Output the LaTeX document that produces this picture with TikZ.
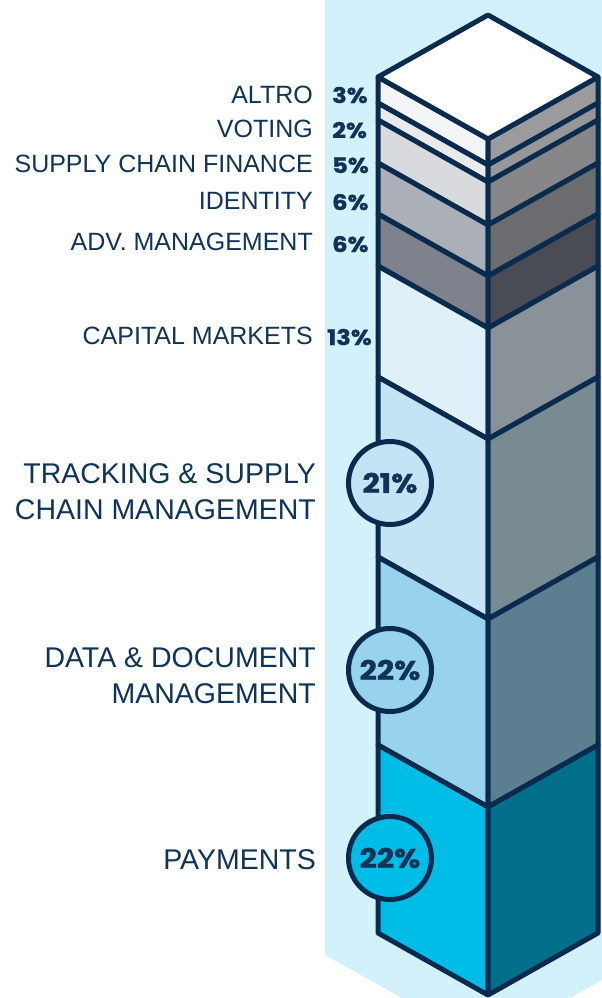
\documentclass[tikz,border=0pt]{standalone}
\usepackage{fontspec}
\setmainfont{Liberation Sans}
\newfontfamily\pctfont{Poppins}[BoldFeatures={FakeStretch=1.12,FakeBold=1.2}]
\definecolor{bgband}{HTML}{D3F1FC}
\definecolor{navy}{HTML}{0A2B4E}
\definecolor{txt}{HTML}{0F3359}
\definecolor{lA}{HTML}{F3F4F6}\definecolor{rA}{HTML}{9B9B9D}
\definecolor{lB}{HTML}{E9EAED}\definecolor{rB}{HTML}{979799}
\definecolor{lC}{HTML}{D9DADE}\definecolor{rC}{HTML}{878789}
\definecolor{lD}{HTML}{ABAFB8}\definecolor{rD}{HTML}{6B6C70}
\definecolor{lE}{HTML}{7D828D}\definecolor{rE}{HTML}{494B55}
\definecolor{lF}{HTML}{DFF0F9}\definecolor{rF}{HTML}{899199}
\definecolor{lG}{HTML}{C4E3F4}\definecolor{rG}{HTML}{788A92}
\definecolor{lH}{HTML}{98D3EE}\definecolor{rH}{HTML}{5B7E90}
\definecolor{lI}{HTML}{00BDE8}\definecolor{rI}{HTML}{02708A}
\begin{document}
\begin{tikzpicture}[x=1pt,y=-1pt,
  face/.style={draw=navy,line width=5pt,line join=round},
  lab/.style={anchor=base east,text=txt,inner sep=0pt,font=\fontsize{25}{28}\selectfont},
  biglab/.style={anchor=base east,text=txt,inner sep=0pt,align=right,font=\fontsize{28.5}{36}\selectfont},
  pct/.style={anchor=base west,text=txt,inner sep=0pt,font=\pctfont\bfseries\fontsize{21.5}{24}\selectfont},
  circ/.style={circle,draw=navy,line width=5pt,minimum size=83pt,inner sep=0pt,text=txt,font=\pctfont\bfseries\fontsize{27}{30}\selectfont}]
\useasboundingbox (0,0) rectangle (602,998);
\fill[white] (0,0) rectangle (602,998);
\fill[bgband] (325,0) -- (602,0) -- (602,980) -- (570,998) -- (402,998) -- (325,955) -- cycle;
% layers: left-edge boundaries
\def\layer#1#2#3#4{%
  \filldraw[face,fill=#3] (378,#1) -- (488,#1+62) -- (488,#2+62) -- (378,#2) -- cycle;
  \filldraw[face,fill=#4] (488,#1+62) -- (598,#1) -- (598,#2) -- (488,#2+62) -- cycle;}
\layer{77}{103}{lA}{rA}
\layer{103}{120}{lB}{rB}
\layer{120}{163}{lC}{rC}
\layer{163}{214}{lD}{rD}
\layer{214}{266}{lE}{rE}
\layer{266}{377}{lF}{rF}
\layer{377}{557}{lG}{rG}
\layer{557}{745}{lH}{rH}
\layer{745}{933}{lI}{rI}
\filldraw[face,fill=white] (488,15) -- (598,77) -- (488,139) -- (378,77) -- cycle;
% circles
\node[circ,fill=lG] (c21) at (390,483) {21\%};
\node[circ,fill=lH] (c22a) at (390,670) {22\%};
\node[circ,fill=lI] (c22b) at (390,858) {22\%};
% small labels
\node[lab] (altro) at (313,103) {ALTRO};
\node[lab] (voting) at (313,137) {VOTING};
\node[lab] (scf) at (313,172) {SUPPLY CHAIN FINANCE};
\node[lab] (ident) at (313,209) {IDENTITY};
\node[lab] (adv) at (313,250) {ADV. MANAGEMENT};
\node[lab] (cap) at (313,344) {CAPITAL MARKETS};
\node[pct] (p3) at (332,103) {3\%};
\node[pct] (p2) at (332,138) {2\%};
\node[pct] (p5) at (332,173) {5\%};
\node[pct] (p6a) at (332,210) {6\%};
\node[pct] (p6b) at (332,252) {6\%};
\node[pct] (p13) at (327,345) {13\%};
% big labels
\node[biglab] (track) at (316,519) {TRACKING \& SUPPLY\\CHAIN MANAGEMENT};
\node[biglab] (data) at (316,703) {DATA \& DOCUMENT\\MANAGEMENT};
\node[biglab] (pay) at (316,869) {PAYMENTS};
\end{tikzpicture}
\end{document}
